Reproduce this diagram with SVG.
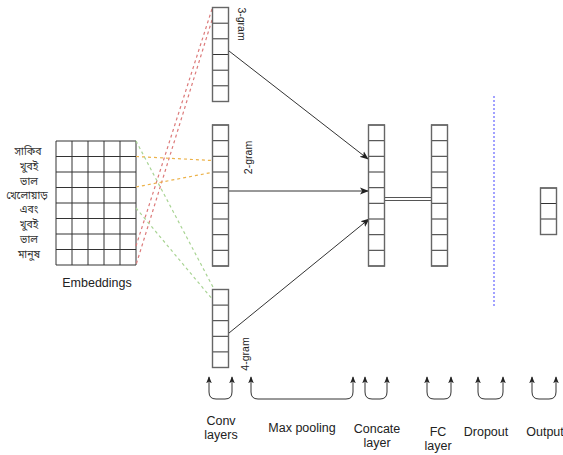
<svg xmlns="http://www.w3.org/2000/svg" width="563" height="455" viewBox="0 0 563 455">
<defs>
<style>
.cell{fill:#fff;stroke:#333;stroke-width:1}
.frame{fill:none;stroke:#666;stroke-width:1.4}
.word{font-family:"Noto Sans Bengali","Noto Serif Bengali","Noto Sans",sans-serif;font-size:10.5px;fill:#333;text-anchor:middle}
.lbl{font-family:"Liberation Sans",Arial,sans-serif;font-size:12.5px;fill:#222;text-anchor:middle}
.gram{font-family:"Liberation Sans",Arial,sans-serif;font-size:10.5px;fill:#222;text-anchor:middle}
.red{stroke:#dc7a7a;stroke-width:1.2;stroke-dasharray:3 3;fill:none}
.org{stroke:#ecb24a;stroke-width:1.2;stroke-dasharray:3 3;fill:none}
.grn{stroke:#a9d494;stroke-width:1.2;stroke-dasharray:3 3;fill:none}
.arr{stroke:#333;stroke-width:1;fill:none;marker-end:url(#ah)}
.brk{stroke:#333;stroke-width:1;fill:none;marker-start:url(#bh);marker-end:url(#bh)}
</style>
<marker id="ah" viewBox="0 0 10 10" refX="9" refY="5" markerWidth="9" markerHeight="9" markerUnits="userSpaceOnUse" orient="auto">
<path d="M0,1 L10,5 L0,9 L2.5,5 Z" fill="#222"/>
</marker>
<marker id="bh" viewBox="0 0 10 10" refX="9" refY="5" markerWidth="7" markerHeight="7" markerUnits="userSpaceOnUse" orient="auto-start-reverse">
<path d="M0,1 L10,5 L0,9 L2.5,5 Z" fill="#222"/>
</marker>
</defs>
<rect width="563" height="455" fill="#fff"/>

<g id="words">
<text class="word" x="28" y="155">সাকিব</text>
<text class="word" x="29" y="170">খুবই</text>
<text class="word" x="29" y="185">ভাল</text>
<text class="word" x="27" y="199">খেলোয়াড়</text>
<text class="word" x="29" y="213">এবং</text>
<text class="word" x="29" y="228">খুবই</text>
<text class="word" x="29" y="243">ভাল</text>
<text class="word" x="29" y="258">মানুষ</text>
</g>

<g id="embeddings">
<path class="cell" d="M56,141 H136 V265 H56 Z M72,141 V265 M88,141 V265 M104,141 V265 M120,141 V265 M56,156.5 H136 M56,172 H136 M56,187.5 H136 M56,203 H136 M56,218.5 H136 M56,234 H136 M56,249.5 H136"/>
<text class="lbl" x="97" y="287">Embeddings</text>
</g>

<g id="connectors">
<line class="red" x1="212" y1="9" x2="136" y2="246"/>
<line class="red" x1="212" y1="20" x2="136" y2="265"/>
<line class="org" x1="136" y1="156.5" x2="212" y2="160.5"/>
<line class="org" x1="136" y1="187" x2="214" y2="172"/>
<line class="grn" x1="136" y1="141" x2="214" y2="289"/>
<line class="grn" x1="136" y1="208" x2="213" y2="300"/>
<line class="arr" x1="229" y1="51" x2="368" y2="159"/>
<line class="arr" x1="229" y1="191" x2="368" y2="191"/>
<line class="arr" x1="229" y1="333" x2="369" y2="219"/>
<path d="M385,197.5 H432 M385,200.5 H432" stroke="#555" stroke-width="1" fill="none"/>
<line x1="494" y1="96" x2="494" y2="306" stroke="#8a8aff" stroke-width="1.6" stroke-dasharray="2 2"/>
</g>

<g id="conv3">
<rect class="cell" x="212.5" y="7.5" width="16" height="94"/>
<path class="cell" d="M212.5,23.2 H228.5 M212.5,38.8 H228.5 M212.5,54.5 H228.5 M212.5,70.2 H228.5 M212.5,85.8 H228.5"/>
<rect class="frame" x="212.5" y="7.5" width="16" height="94"/>
<text class="gram" transform="translate(241,24) rotate(90)" y="3.5">3-gram</text>
</g>

<g id="conv2">
<rect class="cell" x="212.5" y="125" width="16" height="141"/>
<path class="cell" d="M212.5,140.7 H228.5 M212.5,156.3 H228.5 M212.5,172 H228.5 M212.5,187.7 H228.5 M212.5,203.3 H228.5 M212.5,219 H228.5 M212.5,234.7 H228.5 M212.5,250.3 H228.5"/>
<rect class="frame" x="212.5" y="125" width="16" height="141"/>
<text class="gram" transform="translate(248,157.5) rotate(-90)" y="3.5">2-gram</text>
</g>

<g id="conv4">
<rect class="cell" x="212.5" y="289.5" width="16" height="78"/>
<path class="cell" d="M212.5,305.1 H228.5 M212.5,320.7 H228.5 M212.5,336.3 H228.5 M212.5,351.9 H228.5"/>
<rect class="frame" x="212.5" y="289.5" width="16" height="78"/>
<text class="gram" transform="translate(245,354) rotate(-90)" y="3.5">4-gram</text>
</g>

<g id="concat">
<rect class="cell" x="368.5" y="125" width="16" height="141"/>
<path class="cell" d="M368.5,140.7 H384.5 M368.5,156.3 H384.5 M368.5,172 H384.5 M368.5,187.7 H384.5 M368.5,203.3 H384.5 M368.5,219 H384.5 M368.5,234.7 H384.5 M368.5,250.3 H384.5"/>
<rect class="frame" x="368.5" y="125" width="16" height="141"/>
</g>

<g id="fc">
<rect class="cell" x="431.5" y="125" width="16" height="141"/>
<path class="cell" d="M431.5,140.7 H447.5 M431.5,156.3 H447.5 M431.5,172 H447.5 M431.5,187.7 H447.5 M431.5,203.3 H447.5 M431.5,219 H447.5 M431.5,234.7 H447.5 M431.5,250.3 H447.5"/>
<rect class="frame" x="431.5" y="125" width="16" height="141"/>
</g>

<g id="output">
<rect class="cell" x="540.5" y="188" width="16" height="46.5"/>
<path class="cell" d="M540.5,203.5 H556.5 M540.5,219 H556.5"/>
<rect class="frame" x="540.5" y="188" width="16" height="46.5"/>
</g>

<g id="brackets">
<path class="brk" d="M209,377 V392 Q209,399 216,399 H225 Q232,399 232,392 V377"/>
<path class="brk" d="M251,377 V392 Q251,399 258,399 H346 Q353,399 353,392 V377"/>
<path class="brk" d="M365,377 V392 Q365,399 372,399 H380 Q387,399 387,392 V377"/>
<path class="brk" d="M427,377 V392 Q427,399 434,399 H444 Q451,399 451,392 V377"/>
<path class="brk" d="M478,377 V392 Q478,399 485,399 H496 Q503,399 503,392 V377"/>
<path class="brk" d="M532,377 V392 Q532,399 539,399 H549 Q556,399 556,392 V377"/>
</g>

<g id="labels">
<text class="lbl" x="221" y="425">Conv</text>
<text class="lbl" x="221" y="439">layers</text>
<text class="lbl" x="302" y="432">Max pooling</text>
<text class="lbl" x="377" y="433">Concate</text>
<text class="lbl" x="377" y="447">layer</text>
<text class="lbl" x="438" y="436">FC</text>
<text class="lbl" x="438" y="450">layer</text>
<text class="lbl" x="486" y="436">Dropout</text>
<text class="lbl" x="545" y="436">Output</text>
</g>
</svg>
